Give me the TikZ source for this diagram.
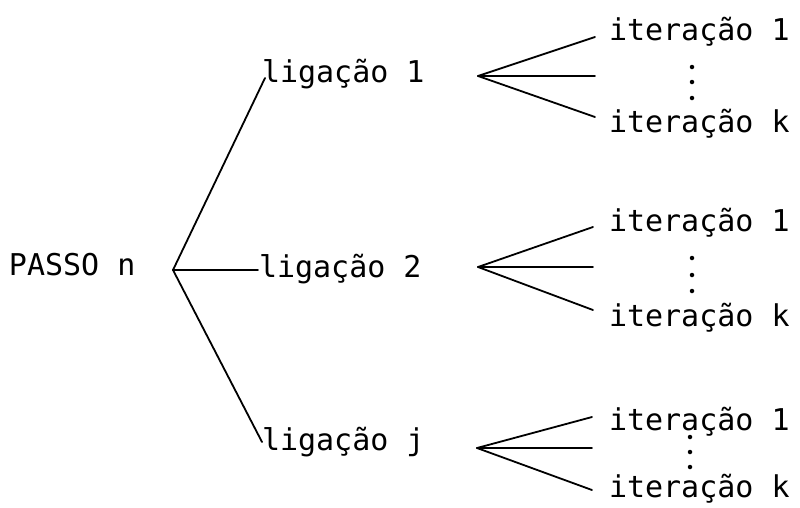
\documentclass[tikz,border=0pt]{standalone}
\usepackage{fontspec}
\newfontfamily\lblfont{DejaVu Sans Mono}
\begin{document}
\begin{tikzpicture}[x=1pt,y=-1pt,
  lbl/.style={anchor=base west, inner sep=0pt, outer sep=0pt,
              font=\lblfont\fontsize{30}{36}\selectfont},
  branch/.style={line width=1.8pt, line cap=round},
  vdot/.style={circle, fill=black, inner sep=0pt, minimum size=4.5pt}]
\useasboundingbox (0,0) rectangle (800,507);

% root
\node[lbl] (passo) at (9,275) {PASSO n};
\coordinate (fa) at (173,270);

% first level
\node[lbl] (l1) at (262,82) {ligação 1};
\node[lbl] (l2) at (259,277) {ligação 2};
\node[lbl] (lj) at (262,450) {ligação j};
\coordinate (e1) at (265,78);
\coordinate (e2) at (258,270);
\coordinate (ej) at (262,442);
\draw[branch] (fa) -- (e1);
\draw[branch] (fa) -- (e2);
\draw[branch] (fa) -- (ej);

% second level: one fan per link
\foreach \n/\tx/\ty/\ex/\eu/\ek/\ba/\bk/\dx/\da/\db/\dc in {
    a/478/76/595/37/117/40/132/692/67/82/98,
    b/478/267/593/227/310/231/326/692/258/275/291,
    c/477/448/592/417/490/430/497/690/437/452/467} {
  \coordinate (t\n) at (\tx,\ty);
  \coordinate (u\n) at (\ex,\eu);
  \coordinate (m\n) at (\ex,\ty);
  \coordinate (k\n) at (\ex,\ek);
  \draw[branch] (t\n) -- (u\n);
  \draw[branch] (t\n) -- (m\n);
  \draw[branch] (t\n) -- (k\n);
  \node[lbl] (i1\n) at (609,\ba) {iteração 1};
  \node[lbl] (ik\n) at (609,\bk) {iteração k};
  \node[vdot] (d1\n) at (\dx,\da) {};
  \node[vdot] (d2\n) at (\dx,\db) {};
  \node[vdot] (d3\n) at (\dx,\dc) {};
}
\end{tikzpicture}
\end{document}
